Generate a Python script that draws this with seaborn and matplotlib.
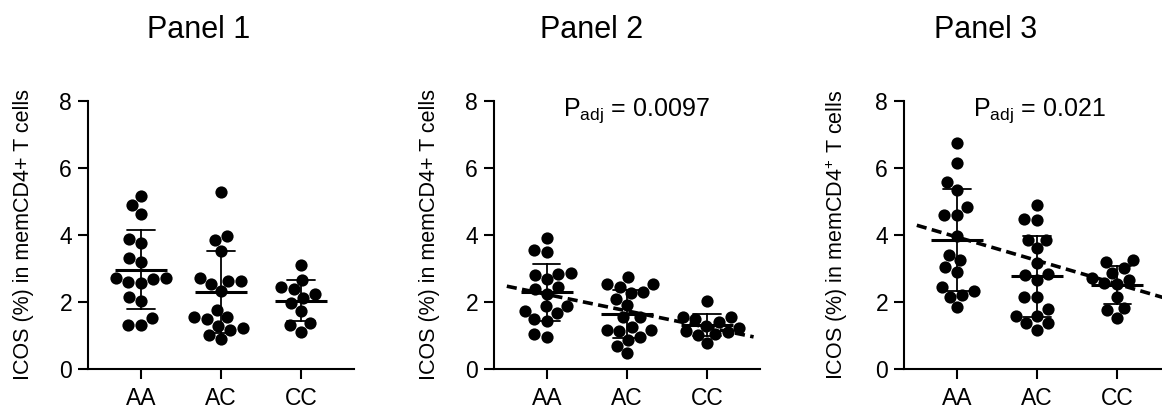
import numpy as np
import pandas as pd
import matplotlib
matplotlib.use("Agg")
import matplotlib.pyplot as plt
import seaborn as sns

# ---- data -------------------------------------------------------------
genotypes = ["AA", "AC", "CC"]
panel_titles = ["Panel 1", "Panel 2", "Panel 3"]
ylabels = [
    "ICOS (%) in memCD4+ T cells",
    "ICOS (%) in memCD4+ T cells",
    "ICOS (%) in memCD4$^{+}$ T cells",
]

p1_aa = [5.16, 4.89, 4.64, 3.87, 3.77, 3.32, 3.20, 2.71, 2.61, 2.71, 2.58,
         2.69, 2.14, 2.04, 1.52, 1.32, 1.32]
p1_ac = [5.29, 3.85, 3.96, 3.53, 2.63, 2.73, 2.54, 2.63, 2.33, 1.77, 1.55,
         1.49, 1.55, 1.29, 1.22, 1.02, 1.17, 0.91]
p1_cc = [3.12, 2.66, 2.38, 2.46, 2.23, 1.96, 2.11, 1.74, 1.37, 1.32, 1.12]

p2_aa = [3.90, 3.50, 3.55, 2.86, 2.84, 2.81, 2.68, 2.38, 2.44, 2.25, 1.68,
         1.74, 1.88, 1.88, 1.44, 1.49, 0.97, 1.05]
p2_ac = [2.74, 2.54, 2.46, 2.54, 2.26, 2.29, 2.08, 1.91, 1.55, 1.55, 1.17,
         1.27, 1.15, 1.17, 0.97, 0.87, 0.69, 0.48]
p2_cc = [2.02, 1.57, 1.49, 1.55, 1.40, 1.30, 1.12, 1.24, 1.15, 1.05, 1.02,
         0.77]

p3_aa = [6.74, 6.15, 5.58, 5.34, 4.82, 4.59, 4.59, 3.97, 3.40, 3.05, 3.25,
         2.90, 2.34, 2.46, 2.21, 2.16, 1.86]
p3_ac = [4.89, 4.45, 4.47, 3.85, 3.85, 3.60, 3.17, 2.82, 2.84, 2.66, 2.14,
         2.14, 1.79, 1.60, 1.60, 1.37, 1.37, 1.17]
p3_cc = [3.27, 3.20, 3.01, 2.88, 2.71, 2.66, 2.58, 2.55, 2.16, 1.83, 1.76,
         1.52]

panel_values = [
    [p1_aa, p1_ac, p1_cc],
    [p2_aa, p2_ac, p2_cc],
    [p3_aa, p3_ac, p3_cc],
]

# additive-model trend (value at AA, change per C allele) and adjusted p
trend_intercept = [None, 2.23, 3.94]
trend_slope = [None, -0.49, -0.70]
p_adj_labels = [None, "0.0097", "0.021"]

# ---- style ------------------------------------------------------------
sns.set_style("ticks")
plt.rcParams["font.family"] = ["Liberation Sans", "DejaVu Sans"]
plt.rcParams["text.color"] = "black"
plt.rcParams["axes.labelcolor"] = "black"
plt.rcParams["mathtext.fontset"] = "custom"
plt.rcParams["mathtext.rm"] = "Liberation Sans"
plt.rcParams["mathtext.it"] = "Liberation Sans"
plt.rcParams["mathtext.bf"] = "Liberation Sans"

W, H = 1162, 411
fig = plt.figure(figsize=(W / 100, H / 100), dpi=100)

ax_lefts = [88, 494, 904]
ax_w = 266
ax_bottom, ax_top = 369.3, 100.7
title_x = [198.5, 591.5, 985.5]

spine_lw = 1.5

for i in range(3):
    ax = fig.add_axes([ax_lefts[i] / W, (H - ax_bottom) / H,
                       ax_w / W, (ax_bottom - ax_top) / H])
    rows = []
    for g, vals in zip(genotypes, panel_values[i]):
        rows += [(g, v) for v in vals]
    df = pd.DataFrame(rows, columns=["genotype", "value"])

    sns.swarmplot(data=df, x="genotype", y="value", order=genotypes,
                  color="black", size=8.8, linewidth=0, ax=ax, zorder=2)
    sns.pointplot(data=df, x="genotype", y="value", order=genotypes,
                  errorbar="sd", linestyle="none", marker="_",
                  markersize=38, markeredgewidth=2.2, color="black",
                  capsize=0.34, err_kws={"linewidth": 1.3}, ax=ax, zorder=3)

    if trend_slope[i] is not None:
        xs = np.array([-0.5, 2.58])
        ax.plot(xs, trend_intercept[i] + trend_slope[i] * xs, color="black",
                lw=2.6, ls=(0, (2.8, 1.5)), zorder=4, solid_capstyle="butt")
        ax.text(0.2, 7.55, r"P$_{\mathrm{adj}}$ = " + p_adj_labels[i],
                ha="left", va="baseline", fontsize=18)

    ax.set_xlim(-0.66, 2.66)
    ax.set_ylim(0, 8)
    ax.set_yticks([0, 2, 4, 6, 8])
    ax.set_xlabel("")
    ax.set_ylabel(ylabels[i], fontsize=15.5)
    ax.yaxis.set_label_coords(-0.203, 0.5)
    ax.tick_params(axis="both", labelsize=16.5, length=7.2, width=spine_lw,
                   color="black", labelcolor="black")
    ax.tick_params(axis="x", pad=5.5)
    ax.tick_params(axis="y", pad=4.3)
    for s in ["left", "bottom"]:
        ax.spines[s].set_linewidth(spine_lw)
        ax.spines[s].set_color("black")
    sns.despine(ax=ax)

    fig.text(title_x[i] / W, 1 - 30 / H, panel_titles[i], ha="center",
             va="center", fontsize=22)

fig.savefig("out.png", dpi=100)
